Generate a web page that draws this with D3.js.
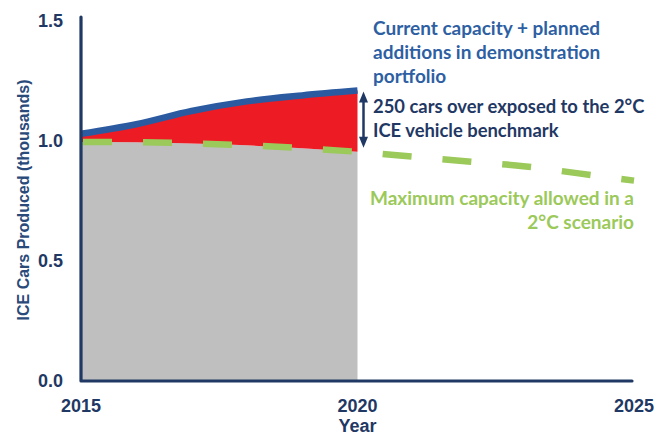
<!DOCTYPE html>
<html><head><meta charset="utf-8">
<script src="https://cdn.jsdelivr.net/npm/d3@7"></script>
<style>body{margin:0;background:#fff}svg{display:block}</style>
</head><body>
<svg id="c" width="657" height="435"></svg>
<script>
const years = [2015,2016,2017,2018,2019,2020];
const capacityPlanned = [1.03,1.07,1.125,1.165,1.19,1.21];
const benchmarkYears = [2015,2016,2017,2018,2019,2020,2021,2022,2023,2024,2025];
const benchmark2C = [0.996,0.995,0.99,0.982,0.97,0.955,0.935,0.915,0.895,0.865,0.835];
const yTicks = [0,0.5,1.0,1.5];
const xTicks = [2015,2020,2025];

const navy="#1f3864", blue="#2c5aa0", red="#ed1c24", gray="#bfbfbf", green="#9bc95a";
const svg=d3.select("#c");
const x=d3.scaleLinear().domain([2015,2025]).range([81,634]);
const y=d3.scaleLinear().domain([0,1.5]).range([381,21]);
const benchAt = yr => benchmark2C[benchmarkYears.indexOf(yr)];
const rows = years.map((yr,i)=>({yr, top:capacityPlanned[i], bench:benchAt(yr)}));
const curve=d3.curveMonotoneX;

svg.append("path").datum(rows).attr("fill",gray)
  .attr("d",d3.area().curve(curve).x(d=>x(d.yr)).y0(y(0)).y1(d=>y(d.bench)));
svg.append("path").datum(rows).attr("fill",red)
  .attr("d",d3.area().curve(curve).x(d=>x(d.yr)).y0(d=>y(d.bench)).y1(d=>y(d.top)));
svg.append("path").datum(rows).attr("fill","none").attr("stroke",blue).attr("stroke-width",6.5)
  .attr("d",d3.line().curve(curve).x(d=>x(d.yr)).y(d=>y(d.top)));
svg.append("path").datum(benchmarkYears.map((yr,i)=>({yr,v:benchmark2C[i]})))
  .attr("fill","none").attr("stroke",green).attr("stroke-width",6.5)
  .attr("stroke-dasharray","29,31").attr("stroke-dashoffset",-2)
  .attr("d",d3.line().curve(curve).x(d=>x(d.yr)).y(d=>y(d.v)));

// axes
svg.append("path").attr("fill","none").attr("stroke",navy).attr("stroke-width",3.2)
  .attr("stroke-linejoin","round").attr("stroke-linecap","round")
  .attr("d",`M${x(2015)},${y(1.5)-4}V${y(0)}H${x(2025)-2}`);
const tf="'Liberation Sans',Arial,sans-serif";
svg.append("g").selectAll("text").data(yTicks).join("text")
  .attr("x",63).attr("y",d=>y(d)).attr("dy","0.36em").attr("text-anchor","end")
  .attr("font-family",tf).attr("font-weight","bold").attr("font-size",18).attr("fill",navy)
  .text(d=>d3.format(".1f")(d));
svg.append("g").selectAll("text").data(xTicks).join("text")
  .attr("x",d=>x(d)).attr("y",412).attr("text-anchor","middle")
  .attr("font-family",tf).attr("font-weight","bold").attr("font-size",18).attr("fill",navy)
  .text(d=>d);
svg.append("text").attr("x",x(2020)).attr("y",432).attr("text-anchor","middle")
  .attr("font-family",tf).attr("font-weight","bold").attr("font-size",18).attr("fill",navy).text("Year");
svg.append("text").attr("transform","translate(29,200) rotate(-90)").attr("text-anchor","middle")
  .attr("font-family",tf).attr("font-weight","bold").attr("font-size",16).attr("fill","#2a4a7a")
  .text("ICE Cars Produced (thousands)");

// arrow
const ax=x(2020)+6, aTop=y(capacityPlanned[5])+1, aBot=y(benchAt(2020))-4;
svg.append("line").attr("x1",ax).attr("x2",ax).attr("y1",aTop+8).attr("y2",aBot-8)
  .attr("stroke",navy).attr("stroke-width",2.5);
svg.append("path").attr("fill",navy).attr("d",`M${ax},${aTop}L${ax-4.5},${aTop+11}L${ax+4.5},${aTop+11}Z`);
svg.append("path").attr("fill",navy).attr("d",`M${ax},${aBot}L${ax-4.5},${aBot-11}L${ax+4.5},${aBot-11}Z`);

// annotations
const af="Lato,'Open Sans',sans-serif";
function lines(xp,ys,arr,col,anchor,fs){
  svg.append("g").selectAll("text").data(arr).join("text")
   .attr("x",xp).attr("y",(d,i)=>ys+i*24).attr("text-anchor",anchor)
   .attr("font-family",af).attr("font-weight","bold").attr("font-size",fs).attr("fill",col).text(d=>d);
}
lines(373,35,["Current capacity + planned","additions in demonstration","portfolio"],"#2e5fa3","start",19);
lines(373,113,["250 cars over exposed to the 2°C","ICE vehicle benchmark"],navy,"start",18.4);
lines(634,205,["Maximum capacity allowed in a","2°C scenario"],green,"end",19);
</script>
</body></html>
